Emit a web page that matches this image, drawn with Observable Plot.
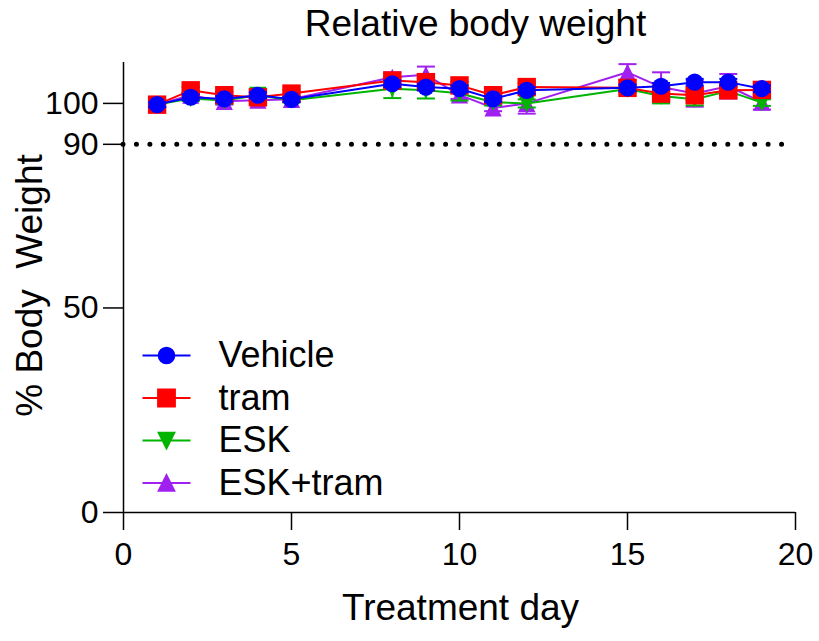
<!DOCTYPE html>
<html>
<head>
<meta charset="utf-8">
<script src="https://cdn.jsdelivr.net/npm/d3@7"></script>
<script src="https://cdn.jsdelivr.net/npm/@observablehq/plot@0.6"></script>
<style>
  body { margin: 0; background: #fff; }
</style>
</head>
<body>
<div id="chart"></div>
<script>
// ---- data ----
const days = [1, 2, 3, 4, 5, 8, 9, 10, 11, 12, 15, 16, 17, 18, 19];
const seriesNames = ["Vehicle", "tram", "ESK", "ESK+tram"];
const vehicle    = [99.7, 101.5, 101.1, 102.0, 101.0, 104.8, 104.0, 103.6, 101.1, 103.2, 103.8, 104.2, 105.2, 105.2, 103.6];
const vehicleErr = [0.6, 0.7, 0.7, 0.7, 0.6, 0.8, 0.8, 0.8, 0.7, 0.8, 0.8, 0.8, 0.8, 0.8, 0.8];
const tram       = [99.7, 103.2, 102.0, 101.5, 102.4, 105.6, 105.2, 104.4, 102.0, 104.0, 103.8, 102.4, 102.0, 103.2, 103.3];
const tramErr    = [0.6, 0.8, 0.8, 0.8, 0.8, 0.9, 0.9, 0.9, 0.8, 0.9, 0.9, 1.0, 1.2, 1.0, 0.9];
const esk        = [99.7, 101.2, 100.7, 102.0, 100.8, 103.6, 103.2, 102.5, 100.3, 100.0, 103.5, 101.8, 101.0, 103.0, 100.2];
const eskErr     = [0.5, 0.6, 0.8, 0.8, 0.6, 2.3, 2.0, 1.8, 0.8, 1.0, 0.8, 1.8, 1.5, 1.0, 0.8];
const eskTram    = [99.7, 102.0, 100.5, 100.8, 101.0, 106.4, 107.0, 102.1, 98.9, 100.0, 107.6, 104.0, 102.4, 104.2, 100.3];
const eskTramErr = [0.5, 0.8, 0.8, 0.6, 0.6, 1.2, 2.0, 1.0, 0.8, 2.5, 2.0, 3.6, 3.2, 3.0, 1.8];

const colors = ["#0000FF", "#FF0000", "#00B400", "#A020F0"];
const titleText = "Relative body weight";
const xLabelText = "Treatment day";
const yLabelText = "% Body\u00A0 Weight";
const xTicks = [0, 5, 10, 15, 20];
const yTicks = [0, 50, 90, 100];
const thresholdLine = [{y: 90, from: 0, to: 19.62}];

const seriesValues = [vehicle, tram, esk, eskTram];
const seriesErrors = [vehicleErr, tramErr, eskErr, eskTramErr];

// ---- symbols ----
const symCircle = {draw(ctx, size) { const r = Math.sqrt(size / Math.PI); ctx.moveTo(r, 0); ctx.arc(0, 0, r, 0, 2 * Math.PI); ctx.closePath(); }};
const symSquare = {draw(ctx, size) { const r = Math.sqrt(size / Math.PI); ctx.rect(-r, -r, 2 * r, 2 * r); }};
const symTriUp = {draw(ctx, size) { const r = Math.sqrt(size / Math.PI); ctx.moveTo(0, -r); ctx.lineTo(r, r); ctx.lineTo(-r, r); ctx.closePath(); }};
const symTriDown = {draw(ctx, size) { const r = Math.sqrt(size / Math.PI); ctx.moveTo(0, r); ctx.lineTo(r, -r); ctx.lineTo(-r, -r); ctx.closePath(); }};
const symbols = [symCircle, symSquare, symTriDown, symTriUp];
const radii = [8.6, 9.2, 8.6, 8.6];
const capSym = {draw(ctx) { ctx.moveTo(-9, 0); ctx.lineTo(9, 0); }};
const withLine = (sym) => ({draw(ctx, size) { ctx.moveTo(-24, 0); ctx.lineTo(24, 0); sym.draw(ctx, size); }});

const tables = seriesNames.map((name, i) =>
  days.map((day, j) => ({series: name, day, value: seriesValues[i][j], err: seriesErrors[i][j]}))
);

const marks = [];
// axis lines
marks.push(Plot.ruleX([0], {stroke: "black", strokeWidth: 1.5}));
marks.push(Plot.ruleY([0], {stroke: "black", strokeWidth: 1.5}));
// dotted threshold line
marks.push(Plot.ruleY(thresholdLine, {y: "y", x1: "from", x2: "to", stroke: "black", strokeWidth: 5, strokeLinecap: "round", strokeDasharray: "0,13.44"}));

// series, drawn back to front
for (const i of [3, 2, 1, 0]) {
  const rows = tables[i];
  const c = colors[i];
  marks.push(Plot.line(rows, {x: "day", y: "value", stroke: c, strokeWidth: 2}));
  marks.push(Plot.ruleX(rows, {x: "day", y1: d => d.value - d.err, y2: d => d.value + d.err, stroke: c, strokeWidth: 2}));
  marks.push(Plot.dot(rows, {x: "day", y: d => d.value + d.err, symbol: capSym, fill: "none", stroke: c, strokeWidth: 2}));
  marks.push(Plot.dot(rows, {x: "day", y: d => d.value - d.err, symbol: capSym, fill: "none", stroke: c, strokeWidth: 2}));
  marks.push(Plot.dot(rows, {x: "day", y: "value", symbol: symbols[i], r: radii[i], fill: c, stroke: "none"}));
}

// legend
seriesNames.forEach((name, i) => {
  const dy = -(157 - 42.5 * i);
  marks.push(Plot.dot([name], {frameAnchor: "bottom-left", dx: 43, dy, symbol: withLine(symbols[i]), r: radii[i] - 0.8, fill: colors[i], stroke: colors[i], strokeWidth: 2}));
  marks.push(Plot.text([name], {frameAnchor: "bottom-left", dx: 95, dy, text: d => d, textAnchor: "start", lineAnchor: "middle", fontSize: 36, fill: "black"}));
});

// titles
marks.push(Plot.text([titleText], {frameAnchor: "top", dx: 16, dy: -38, text: d => d, lineAnchor: "middle", fontSize: 37, fill: "black"}));
marks.push(Plot.text([xLabelText], {frameAnchor: "bottom", dx: 1, dy: 96, text: d => d, lineAnchor: "middle", fontSize: 37, fill: "black"}));
marks.push(Plot.text([yLabelText], {frameAnchor: "left", dx: -93, dy: -2, rotate: -90, text: d => d, textAnchor: "middle", lineAnchor: "middle", fontSize: 37, fill: "black"}));

// axes
marks.push(Plot.axisX({ticks: xTicks, tickSize: 18, tickPadding: 12, fontSize: 32, label: null, strokeWidth: 1.5}));
marks.push(Plot.axisY({ticks: yTicks, tickSize: 20, tickPadding: 5, fontSize: 32, label: null, strokeWidth: 1.5}));

const chart = Plot.plot({
  width: 819,
  height: 641,
  marginLeft: 123,
  marginRight: 24,
  marginTop: 62,
  marginBottom: 129,
  x: {domain: [0, 20]},
  y: {domain: [0, 110]},
  style: {fontFamily: "'Liberation Sans', Arial, sans-serif", color: "black", background: "white", overflow: "visible"},
  marks
});
document.getElementById("chart").appendChild(chart);
</script>
</body>
</html>
